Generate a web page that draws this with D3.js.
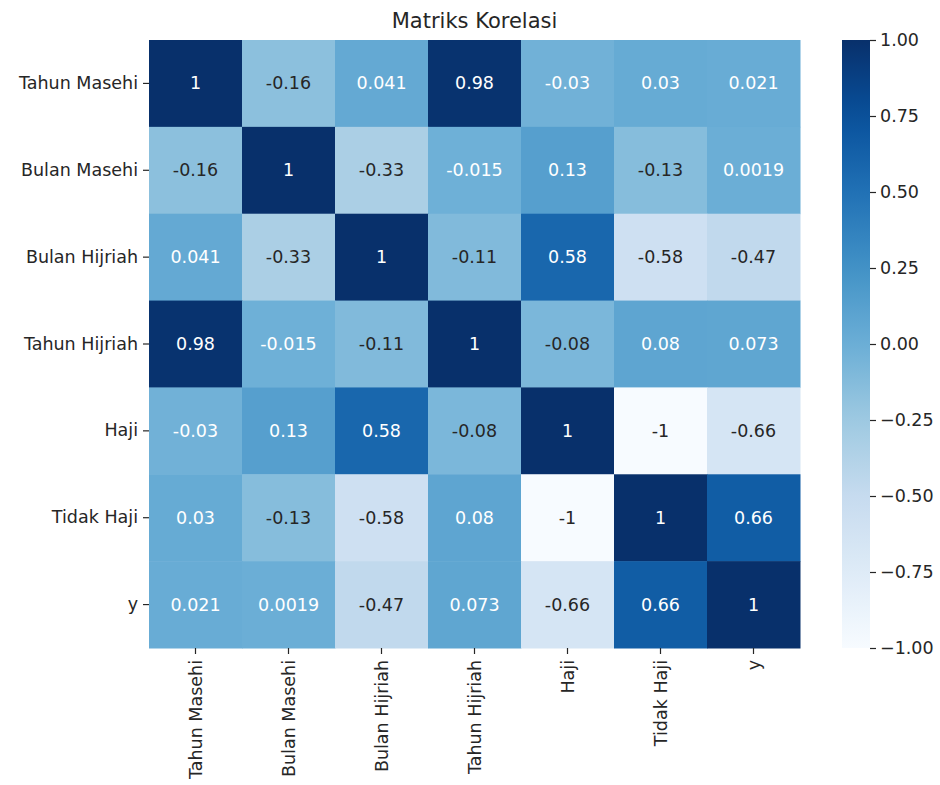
<!DOCTYPE html>
<html lang="en">
<head>
  <meta charset="UTF-8">
  <title>Matriks Korelasi</title>
  <script src="https://d3js.org/d3.v7.min.js"></script>
  <style>
    body { margin: 0; background: #fff; font-family: "DejaVu Sans", sans-serif; }
    svg text { fill: #262626; }
  </style>
</head>
<body>
  <svg width="940" height="785"></svg>
  <script>
    const labels = ["Tahun Masehi", "Bulan Masehi", "Bulan Hijriah", "Tahun Hijriah", "Haji", "Tidak Haji", "y"];
    const corr = [
      [1, -0.16, 0.041, 0.98, -0.03, 0.03, 0.021],
      [-0.16, 1, -0.33, -0.015, 0.13, -0.13, 0.0019],
      [0.041, -0.33, 1, -0.11, 0.58, -0.58, -0.47],
      [0.98, -0.015, -0.11, 1, -0.08, 0.08, 0.073],
      [-0.03, 0.13, 0.58, -0.08, 1, -1, -0.66],
      [0.03, -0.13, -0.58, 0.08, -1, 1, 0.66],
      [0.021, 0.0019, -0.47, 0.073, -0.66, 0.66, 1]
    ];
    const cbarTicks = [-1, -0.75, -0.5, -0.25, 0, 0.25, 0.5, 0.75, 1];
    const title = "Matriks Korelasi";

    const svg = d3.select("svg");
    const plot = {left: 149, right: 800, top: 40, bottom: 648};
    const fs = "17.5px";

    // matplotlib "Blues" (linear between the 9 ColorBrewer stops)
    const blues = ["#f7fbff","#deebf7","#c6dbef","#9ecae1","#6baed6","#4292c6","#2171b5","#08519c","#08306b"];
    const color = d3.scaleLinear()
      .domain(d3.range(blues.length).map(i => -1 + 2 * i / (blues.length - 1)))
      .range(blues)
      .interpolate(d3.interpolateRgb);

    const x = d3.scaleBand().domain(labels).range([plot.left, plot.right]);
    const y = d3.scaleBand().domain(labels).range([plot.top, plot.bottom]);

    const cells = [];
    corr.forEach((row, i) => row.forEach((v, j) => cells.push({r: labels[i], c: labels[j], v})));

    // seaborn picks annotation colour from relative luminance
    function luminance(c) {
      const rgb = d3.rgb(c);
      const lin = [rgb.r, rgb.g, rgb.b].map(u => {
        u /= 255;
        return u <= 0.03928 ? u / 12.92 : Math.pow((u + 0.055) / 1.055, 2.4);
      });
      return 0.2126 * lin[0] + 0.7152 * lin[1] + 0.0722 * lin[2];
    }

    svg.append("g").selectAll("rect")
      .data(cells)
      .join("rect")
      .attr("x", d => x(d.c))
      .attr("y", d => y(d.r))
      .attr("width", x.bandwidth() + 0.5)
      .attr("height", y.bandwidth() + 0.5)
      .attr("fill", d => color(d.v));

    svg.append("g").selectAll("text")
      .data(cells)
      .join("text")
      .attr("x", d => x(d.c) + x.bandwidth() / 2)
      .attr("y", d => y(d.r) + y.bandwidth() / 2)
      .attr("text-anchor", "middle")
      .attr("dominant-baseline", "central")
      .attr("font-size", fs)
      .style("fill", d => luminance(color(d.v)) > 0.408 ? "#262626" : "#ffffff")
      .text(d => String(d.v));

    // axes
    const yAxis = svg.append("g")
      .attr("transform", `translate(${plot.left},0)`)
      .call(d3.axisLeft(y).tickSize(6).tickPadding(5));
    const xAxis = svg.append("g")
      .attr("transform", `translate(0,${plot.bottom})`)
      .call(d3.axisBottom(x).tickSize(6).tickPadding(5));
    [xAxis, yAxis].forEach(g => {
      g.select(".domain").remove();
      g.selectAll("line").attr("stroke", "#262626").attr("stroke-width", 1.2);
      g.selectAll("text").attr("font-size", fs).attr("font-family", "DejaVu Sans, sans-serif");
    });
    xAxis.selectAll("text")
      .attr("transform", "rotate(-90)")
      .attr("text-anchor", "end")
      .attr("x", -12)
      .attr("y", 0)
      .attr("dy", "0.35em");

    // title
    svg.append("text")
      .attr("x", (plot.left + plot.right) / 2)
      .attr("y", 28)
      .attr("text-anchor", "middle")
      .attr("font-size", "21px")
      .text(title);

    // colorbar
    const cb = {left: 842, right: 870};
    const cy = d3.scaleLinear().domain([-1, 1]).range([plot.bottom, plot.top]);
    const grad = svg.append("defs").append("linearGradient")
      .attr("id", "cbar").attr("x1", 0).attr("y1", 1).attr("x2", 0).attr("y2", 0);
    d3.range(0, 1.0001, 0.05).forEach(t => {
      grad.append("stop").attr("offset", t).attr("stop-color", color(-1 + 2 * t));
    });
    svg.append("rect")
      .attr("x", cb.left)
      .attr("y", plot.top)
      .attr("width", cb.right - cb.left)
      .attr("height", plot.bottom - plot.top)
      .attr("fill", "url(#cbar)");
    const cAxis = svg.append("g")
      .attr("transform", `translate(${cb.right},0)`)
      .call(d3.axisRight(cy).tickValues(cbarTicks).tickFormat(d3.format(".2f")).tickSize(6).tickPadding(4));
    cAxis.select(".domain").remove();
    cAxis.selectAll("line").attr("stroke", "#262626").attr("stroke-width", 1.2);
    cAxis.selectAll("text").attr("font-size", fs).attr("font-family", "DejaVu Sans, sans-serif");
  </script>
</body>
</html>
